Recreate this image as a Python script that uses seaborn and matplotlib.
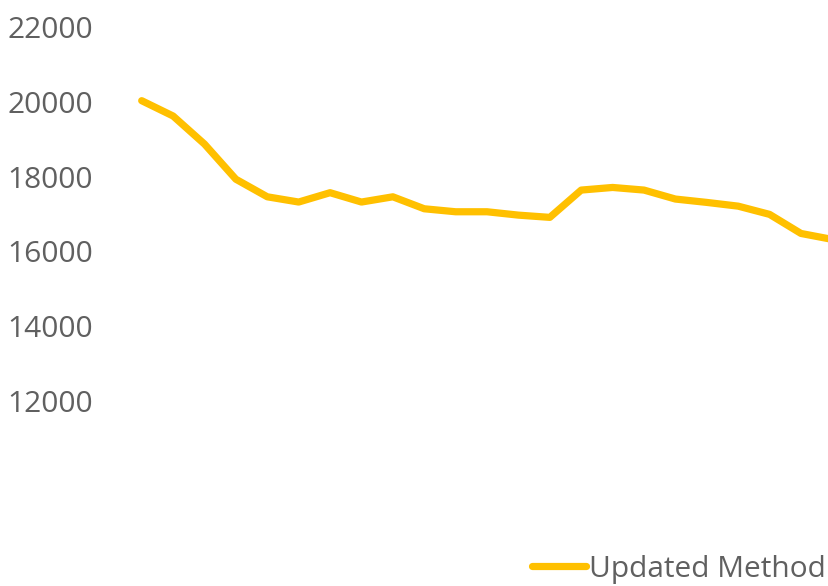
import matplotlib
matplotlib.use("Agg")
import matplotlib.pyplot as plt
import seaborn as sns
import pandas as pd

# values (series is cropped at the right edge)
periods = list(range(23))
updated_method = [20030, 19620, 18870, 17930, 17460, 17320, 17570, 17320, 17460,
                  17140, 17060, 17060, 16970, 16910, 17640, 17710, 17640, 17400,
                  17310, 17210, 16990, 16480, 16320]
y_ticks = [12000, 14000, 16000, 18000, 20000, 22000]

df = pd.DataFrame({"period": periods, "value": updated_method})

sns.set_style("white")
plt.rcParams["font.family"] = ["Open Sans", "DejaVu Sans"]

fig = plt.figure(figsize=(8.29, 5.86), dpi=100)
ax = fig.add_axes([0.152, 0.3157, 0.871, 0.6382])

sns.lineplot(data=df, x="period", y="value", color="#FFC000", linewidth=5.2,
             solid_capstyle="round", label="Updated Method", ax=ax)

ax.set_xlim(-0.5, 22.5)
ax.set_ylim(12000, 22000)
ax.set_yticks(y_ticks)
ax.set_yticklabels([str(t) for t in y_ticks], fontsize=21.5, color="#606060")
ax.set_xticks([])
ax.set_xlabel("")
ax.set_ylabel("")
ax.tick_params(axis="y", length=0, pad=24)
for s in ax.spines.values():
    s.set_visible(False)

ax.legend(loc="center right", bbox_to_anchor=(1.012, 0.029),
          bbox_transform=fig.transFigure, frameon=False, fontsize=21.5,
          handlelength=1.8, handletextpad=0.1, borderaxespad=0.05,
          labelcolor="#606060")

fig.savefig("out.png", dpi=100)
